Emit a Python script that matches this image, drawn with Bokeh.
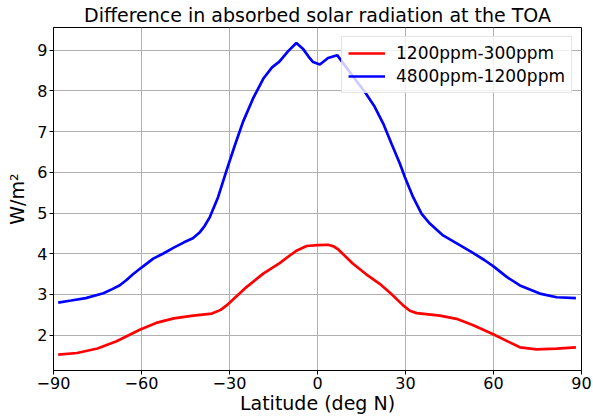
from bokeh.plotting import figure
from bokeh.models import Range1d, FixedTicker, Legend, LegendItem, ColumnDataSource
from bokeh.embed import file_html
from bokeh.resources import INLINE

# ---- data ----
lat_red = [-88.4, -82, -75, -68.5, -60.6, -55, -49, -42.4, -36, -33, -31, -24.2, -18.5,
           -12.9, -9, -7, -3.7, 0, 3.6, 5.5, 7, 12, 16.5, 21.2, 25, 29.2, 31.5, 33.8,
           41.7, 47.4, 53.1, 59.9, 65, 69, 74.7, 81.5, 88.1]
red_vals = [1.52, 1.56, 1.67, 1.85, 2.13, 2.30, 2.41, 2.48, 2.53, 2.62, 2.73, 3.18, 3.51,
            3.77, 3.98, 4.08, 4.19, 4.21, 4.22, 4.18, 4.11, 3.76, 3.50, 3.26, 3.02, 2.73, 2.60, 2.54,
            2.48, 2.40, 2.24, 2.02, 1.84, 1.70, 1.65, 1.67, 1.70]

lat_blue = [-88.4, -84, -79, -73, -70, -67.5, -65, -63, -60, -56, -52.7, -49, -45.5, -42.5,
            -40.1, -38.5, -36.7, -33.9, -31, -28.2, -25.4, -22, -18.5, -15.5, -13, -10, -7.2,
            -5, -3, -1.5, 0.8, 3.6, 6.7, 9.3, 12.5, 16.1, 19.5, 22.4, 25.2, 28.1, 29.8, 32.6,
            35.5, 38.3, 42.8, 48.5, 53, 57, 60, 64.5, 69, 75.8, 81.5, 88.1]
blue_vals = [2.80, 2.85, 2.91, 3.03, 3.13, 3.22, 3.36, 3.49, 3.66, 3.88, 4.00, 4.15, 4.28, 4.38,
             4.53, 4.68, 4.90, 5.39, 6.05, 6.66, 7.24, 7.81, 8.30, 8.58, 8.72, 8.98, 9.18,
             9.04, 8.84, 8.71, 8.65, 8.81, 8.88, 8.63, 8.32, 7.98, 7.61, 7.20, 6.71, 6.21, 5.88, 5.39,
             4.98, 4.74, 4.45, 4.21, 4.02, 3.84, 3.69, 3.43, 3.22, 3.02, 2.93, 2.91]

labels = ["1200ppm-300ppm", "4800ppm-1200ppm"]
x_ticks = [-90, -60, -30, 0, 30, 60, 90]
y_ticks = [2, 3, 4, 5, 6, 7, 8, 9]

FONT = "DejaVu Sans"

p = figure(width=593, height=417, output_backend="svg", toolbar_location=None,
           x_range=Range1d(-90, 90), y_range=Range1d(1.13, 9.56),
           min_border_left=53, min_border_right=12, min_border_top=27, min_border_bottom=47,
           title="Difference in absorbed solar radiation at the TOA")

p.title.text_font = FONT
p.title.text_font_size = "19px"
p.title.text_font_style = "normal"
p.title.align = "center"
p.title.text_color = "black"
p.title.standoff = 3

p.background_fill_color = "white"
p.border_fill_color = "white"
p.outline_line_color = "black"
p.outline_line_width = 1

for ax in (p.xaxis, p.yaxis):
    ax.major_label_text_font = FONT
    ax.major_label_text_font_size = "16px"
    ax.major_label_text_color = "black"
    ax.axis_label_text_font = FONT
    ax.axis_label_text_font_size = "19px"
    ax.axis_label_text_font_style = "normal"
    ax.axis_label_text_color = "black"
    ax.major_tick_out = 4
    ax.major_tick_in = 0
    ax.minor_tick_line_color = None
    ax.axis_line_color = "black"
    ax.major_tick_line_color = "black"
    ax.major_label_standoff = 2
    ax.axis_label_standoff = 0

p.yaxis.axis_label_standoff = 6

p.xaxis.ticker = FixedTicker(ticks=x_ticks)
p.yaxis.ticker = FixedTicker(ticks=y_ticks)
p.xaxis.major_label_overrides = {t: (("\u2212" + str(abs(t))) if t < 0 else str(t)) for t in x_ticks}
p.xaxis.axis_label = "Latitude (deg N)"
p.yaxis.axis_label = "W/m\u00b2"

p.grid.grid_line_color = "#b0b0b0"
p.grid.grid_line_width = 1

src_r = ColumnDataSource(dict(x=lat_red, y=red_vals))
src_b = ColumnDataSource(dict(x=lat_blue, y=blue_vals))
r1 = p.line("x", "y", source=src_r, line_color="red", line_width=2.7)
r2 = p.line("x", "y", source=src_b, line_color="blue", line_width=2.7)

legend = Legend(items=[LegendItem(label=labels[0], renderers=[r1]),
                       LegendItem(label=labels[1], renderers=[r2])],
                location="top_right", margin=9, padding=6, spacing=3,
                label_text_font=FONT, label_text_font_size="17px", label_text_color="black",
                label_height=20, glyph_height=20, glyph_width=37, label_standoff=11,
                border_line_color="#cccccc", border_line_width=1,
                background_fill_color="white", background_fill_alpha=0.8)
p.add_layout(legend)

open("out.html", "w").write(file_html(p, INLINE))
